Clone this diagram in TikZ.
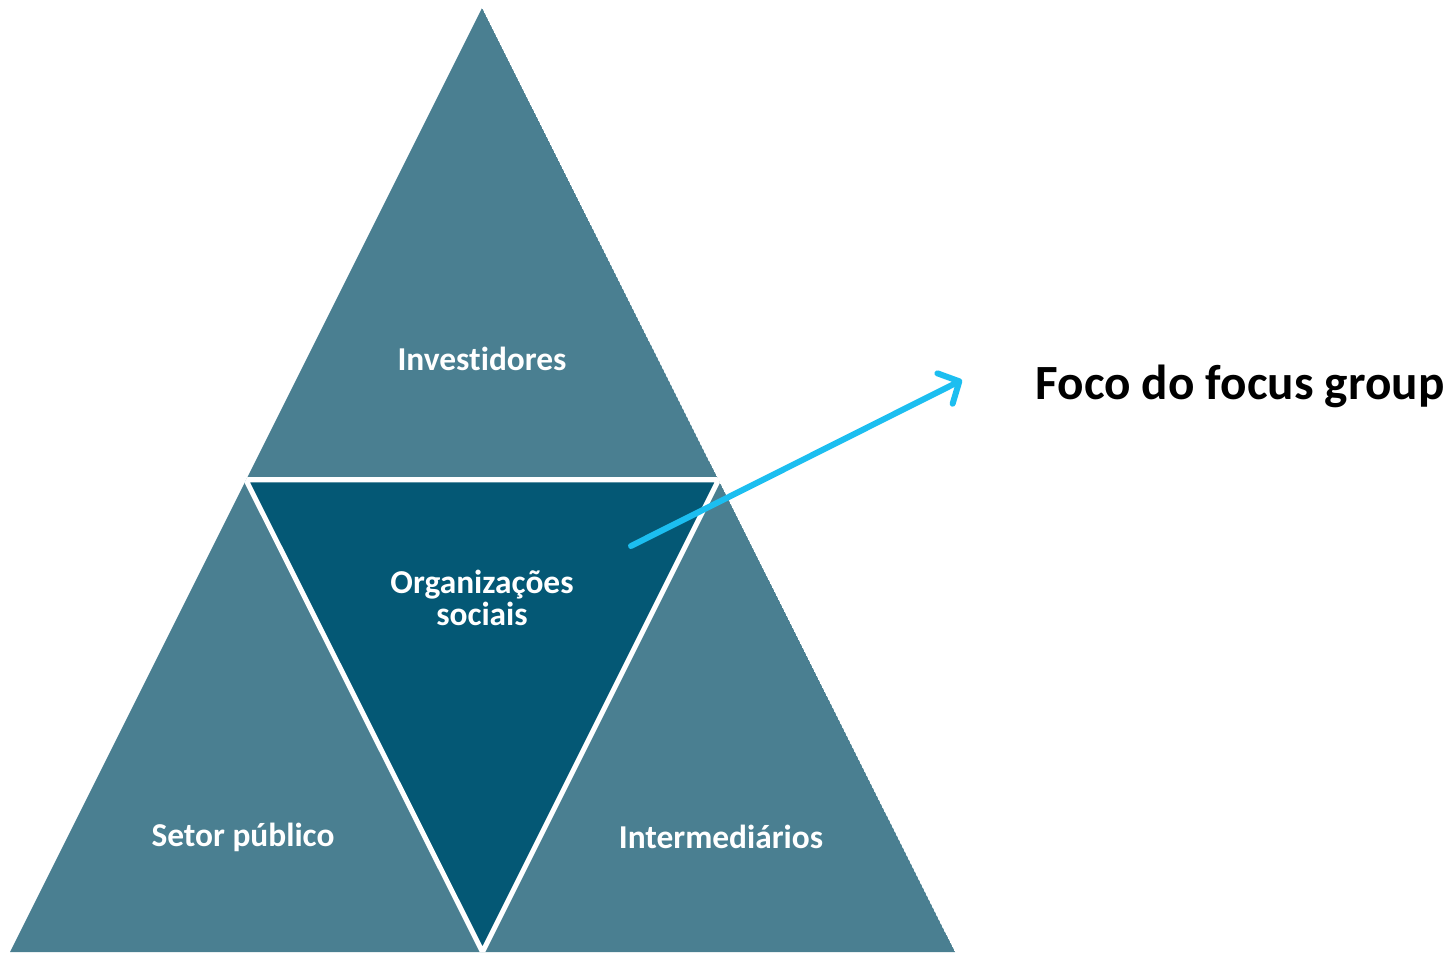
\documentclass[tikz,border=0pt]{standalone}
\usepackage{fontspec}
\setmainfont{Carlito}[Ligatures={NoCommon}]
\usetikzlibrary{arrows.meta,calc}
\definecolor{tealL}{RGB}{74,127,145}
\definecolor{tealD}{RGB}{4,88,117}
\definecolor{arrowC}{RGB}{28,190,240}
\tikzset{
  lbl/.style={text=white,font=\bfseries\fontsize{9.5}{12}\selectfont,align=center,inner sep=0pt},
  sep/.style={draw=white,line width=0.05cm,line join=miter},
  focus/.style={draw=arrowC,line width=0.06cm,line cap=round,-{Straight Barb[round,length=0.16cm,width=0.34cm,line width=0.06cm]}}
}
\begin{document}
\begin{tikzpicture}
\useasboundingbox (0,0) rectangle (14.53,-9.54);
\coordinate (A) at (4.82,-0.08);
\coordinate (BL) at (0.10,-9.52);
\coordinate (BR) at (9.55,-9.52);
\coordinate (ML) at ($(A)!0.5!(BL)$);
\coordinate (MR) at ($(A)!0.5!(BR)$);
\coordinate (MB) at ($(BL)!0.5!(BR)$);
\begin{scope}
\clip (A) -- (BL) -- (BR) -- cycle;
\fill[tealL] (A) -- (BL) -- (BR) -- cycle;
\filldraw[fill=tealD,sep] (ML) -- (MR) -- (MB) -- cycle;
\draw[sep] (0,-4.80) -- (10,-4.80);
\end{scope}
\node[lbl] (inv) at (4.82,-3.59) {Investidores};
\node[lbl] (org) at (4.82,-5.98) {Organizações\\[-3pt]sociais};
\node[lbl] (set) at (2.43,-8.37) {Setor público};
\node[lbl] (int) at (7.21,-8.37) {Intermediários};
\node[font=\bfseries\fontsize{14}{17}\selectfont,inner sep=0pt] (foco) at (12.40,-3.86) {Foco do focus group};
\coordinate (s) at (6.31,-5.46);
\coordinate (e) at (9.62,-3.80);
\draw[focus] (s) -- (e);
\end{tikzpicture}
\end{document}
